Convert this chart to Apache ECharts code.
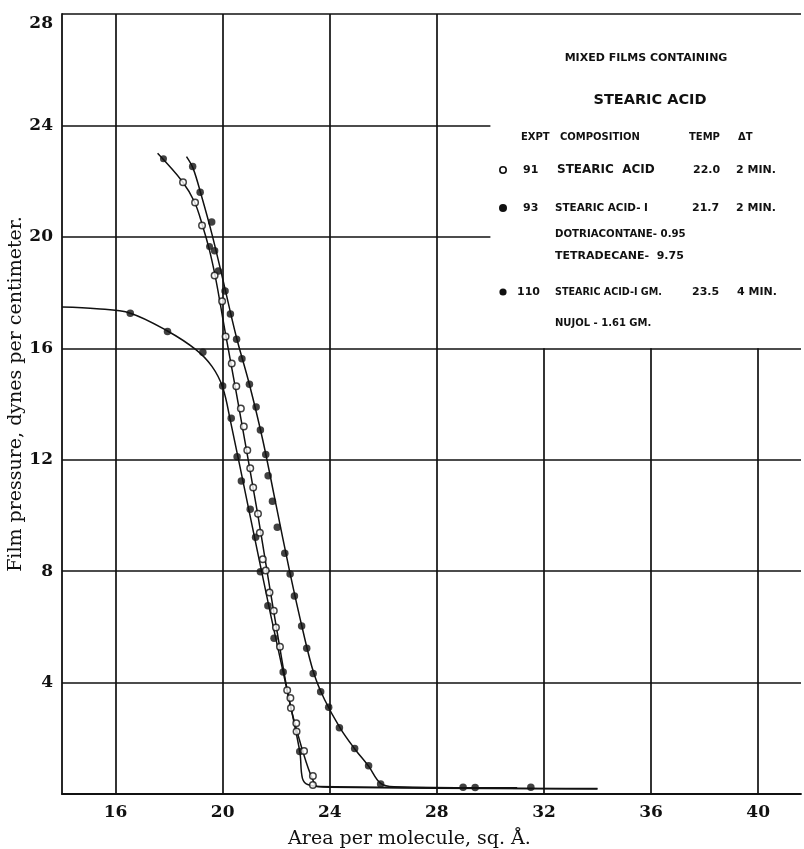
<!DOCTYPE html>
<html>
<head>
<meta charset="utf-8">
<script src="https://cdn.jsdelivr.net/npm/echarts@6/dist/echarts.min.js"></script>
<style>
html,body{margin:0;padding:0;background:#fff;}
#c{width:804px;height:849px;}
</style>
</head>
<body>
<div id="c"></div>
<script>
// ---------- data ----------
const xTicks = [16, 20, 24, 28, 32, 36, 40];
const yTicks = [4, 8, 12, 16, 20, 24, 28];

// Expt 91 – stearic acid (open circles)
const s91Points = [[18.52,21.96],[18.97,21.23],[19.23,20.41],[19.70,18.61],[19.98,17.69],[20.11,16.42],
  [20.34,15.45],[20.51,14.64],[20.68,13.84],[20.79,13.19],[20.92,12.34],[21.03,11.69],[21.14,11.00],
  [21.32,10.06],[21.39,9.38],[21.50,8.43],[21.61,8.02],[21.75,7.23],[21.91,6.58],[21.99,5.98],
  [22.14,5.29],[22.41,3.72],[22.53,3.45],[22.55,3.09],[22.75,2.54],[22.76,2.24],[23.04,1.54],
  [23.37,0.65],[23.37,0.32]];
// points printed solid on the same curve
const s91SolidPoints = [[17.79,22.80],[19.51,19.65]];
// the drawn (faired) curve
const s91Curve = [[17.57,23.00],[18.5,21.98],[18.95,21.25],[19.25,20.4],[19.5,19.55],[19.72,18.6],
  [19.92,17.55],[20.1,16.55],[20.5,14.45],[21.3,10.1],[21.7,7.75],[22.1,5.45],[22.5,3.3],[22.85,2.0],
  [23.1,1.2],[23.35,0.55],[23.55,0.27],[31.0,0.22]];

// Expt 93 – expanded curve (filled circles)
const s93Points = [[18.88,22.53],[19.16,21.60],[19.59,20.53],[19.70,19.50],[19.84,18.77],[20.09,18.06],
  [20.29,17.23],[20.52,16.32],[20.72,15.62],[21.00,14.71],[21.25,13.89],[21.41,13.07],[21.61,12.19],
  [21.70,11.42],[21.86,10.51],[22.04,9.58],[22.32,8.64],[22.52,7.90],[22.68,7.11],[22.95,6.03],
  [23.14,5.23],[23.38,4.33],[23.66,3.67],[23.96,3.11],[24.36,2.38],[24.93,1.63],[25.45,1.01],
  [25.90,0.36],[28.98,0.24],[29.43,0.23],[31.51,0.24]];
const s93Curve = [[18.65,22.88],[18.9,22.45],[19.2,21.5],[19.6,20.1],[20.0,18.5],[20.5,16.45],
  [21.0,14.7],[21.5,12.7],[22.0,10.35],[22.5,8.0],[23.0,5.85],[23.4,4.35],[23.8,3.4],[24.4,2.35],
  [24.95,1.6],[25.45,1.0],[25.9,0.38],[26.4,0.26],[34.0,0.20]];

// Expt 110 – collapsing curve (filled circles)
const s110Points = [[16.55,17.26],[17.94,16.60],[19.26,15.86],[20.00,14.65],[20.32,13.49],[20.54,12.11],
  [20.70,11.24],[21.03,10.22],[21.23,9.22],[21.41,7.98],[21.69,6.76],[21.92,5.59],[22.26,4.38],
  [22.88,1.53]];
const s110Curve = [[14.0,17.48],[15.3,17.42],[16.55,17.26],[17.94,16.62],[19.0,15.95],[19.6,15.35],
  [20.0,14.6],[20.3,13.35],[21.0,10.1],[21.8,6.4],[22.26,4.38],[22.88,1.53],[22.98,0.56],[23.2,0.33],
  [24.0,0.24],[34.0,0.18]];

// ---------- chart ----------
const INK = '#111';
const serif = '"DejaVu Serif", "Liberation Serif", serif';
const lettering = '"DejaVu Sans", sans-serif';

const X_MIN = 14, X_MAX = 41.6, Y_MIN = 0, Y_MAX = 28;
const gridSegments = [];
xTicks.forEach(v => {
  const top = v >= 32 ? 16 : Y_MAX;   // legend box hides upper part
  gridSegments.push([{ coord: [v, Y_MIN] }, { coord: [v, top] }]);
});
yTicks.forEach(v => {
  const right = (v === 20 || v === 24) ? 30 : X_MAX;
  gridSegments.push([{ coord: [X_MIN, v] }, { coord: [right, v] }]);
});

const lineBase = {
  type: 'line', showSymbol: false, smooth: 0.35,
  lineStyle: { color: INK, width: 1.5 }, silent: true, z: 3
};
const filled = { type: 'scatter', symbol: 'circle', symbolSize: 7.5, itemStyle: { color: INK }, z: 5 };

const chart = echarts.init(document.getElementById('c'), null, { renderer: 'canvas' });

const option = {
  animation: false,
  backgroundColor: '#fff',
  grid: { left: 62, right: 3, top: 14, bottom: 55, containLabel: false, outerBoundsMode: 'none' },
  xAxis: {
    type: 'value', min: X_MIN, max: X_MAX, interval: 2,
    splitLine: { show: false },
    axisTick: { show: false },
    axisLine: { show: true, onZero: false, lineStyle: { color: INK, width: 1.8 } },
    axisLabel: {
      margin: 10, color: INK, fontFamily: serif, fontSize: 17, fontWeight: 'bold',
      formatter: v => (xTicks.indexOf(v) >= 0 ? String(v) : '')
    },
    name: 'Area per molecule, sq. Å.', nameLocation: 'middle', nameGap: 45, nameMoveOverlap: false,
    nameTextStyle: { color: INK, fontFamily: serif, fontSize: 19, verticalAlign: 'middle',
                     padding: [0, 44, 0, 0] }
  },
  yAxis: {
    type: 'value', min: Y_MIN, max: Y_MAX, interval: 4,
    splitLine: { show: false },
    axisTick: { show: false },
    axisLine: { show: true, onZero: false, lineStyle: { color: INK, width: 1.8 } },
    axisLabel: {
      margin: 9, color: INK, fontFamily: serif, fontSize: 17, fontWeight: 'bold',
      formatter: v => (v === 28 ? '{t|28}' : (yTicks.indexOf(v) >= 0 ? String(v) : '')),
      rich: { t: { fontFamily: serif, fontSize: 17, fontWeight: 'bold', color: INK, padding: [20, 0, 0, 0] } }
    },
    name: 'Film pressure, dynes per centimeter.', nameLocation: 'middle', nameGap: 36, nameMoveOverlap: false,
    nameTextStyle: { color: INK, fontFamily: serif, fontSize: 19, padding: [0, 0, 0, 20] }
  },
  series: [
    Object.assign({}, lineBase, {
      name: '110 curve', data: s110Curve,
      markLine: {
        silent: true, symbol: 'none', animation: false, label: { show: false },
        lineStyle: { color: INK, width: 1.7, type: 'solid' },
        data: gridSegments
      }
    }),
    Object.assign({}, lineBase, { name: '93 curve', data: s93Curve }),
    Object.assign({}, lineBase, { name: '91 curve', data: s91Curve }),
    Object.assign({}, filled, { name: '110', data: s110Points }),
    Object.assign({}, filled, { name: '93', data: s93Points }),
    { type: 'scatter', name: '91', data: s91Points, symbol: 'circle', symbolSize: 6.5, z: 5,
      itemStyle: { color: '#fff', borderColor: INK, borderWidth: 1.5 } },
    Object.assign({}, filled, { name: '91 solid', data: s91SolidPoints, symbolSize: 7 })
  ]
};
chart.setOption(option);

// ---------- legend box (lettered table) ----------
function txt(s, x, y, size, align) {
  return { type: 'text', x: x, y: y, z: 50, silent: true,
    style: { text: s, fill: INK, font: 'bold ' + size + 'px ' + lettering,
             textAlign: align || 'left', textVerticalAlign: 'middle' } };
}
const rows = [
  txt('MIXED FILMS CONTAINING', 646, 58, 11, 'center'),
  txt('STEARIC ACID', 650, 100, 14.5, 'center'),
  txt('EXPT', 521, 137, 10), txt('COMPOSITION', 560, 137, 10),
  txt('TEMP', 689, 137, 10), txt('ΔT', 738, 137, 10),
  txt('91', 523, 170, 11), txt('STEARIC  ACID', 557, 170, 12),
  txt('22.0', 693, 170, 11), txt('2 MIN.', 736, 170, 11),
  txt('93', 523, 208, 11), txt('STEARIC ACID- I', 555, 208, 10.4),
  txt('21.7', 692, 208, 11), txt('2 MIN.', 736, 208, 11),
  txt('DOTRIACONTANE- 0.95', 555, 234, 10.2),
  txt('TETRADECANE-  9.75', 555, 256, 11),
  txt('110', 517, 292, 11), txt('STEARIC ACID-I GM.', 555, 292, 9.6),
  txt('23.5', 692, 292, 11), txt('4 MIN.', 737, 292, 11),
  txt('NUJOL - 1.61 GM.', 555, 323, 10),
  { type: 'circle', z: 50, silent: true, shape: { cx: 503, cy: 170, r: 3.2 },
    style: { fill: '#fff', stroke: INK, lineWidth: 1.6 } },
  { type: 'circle', z: 50, silent: true, shape: { cx: 503, cy: 208, r: 4 }, style: { fill: INK } },
  { type: 'circle', z: 50, silent: true, shape: { cx: 503, cy: 292, r: 3.6 }, style: { fill: INK } }
];
chart.setOption({ graphic: { elements: rows } });
</script>
</body>
</html>
